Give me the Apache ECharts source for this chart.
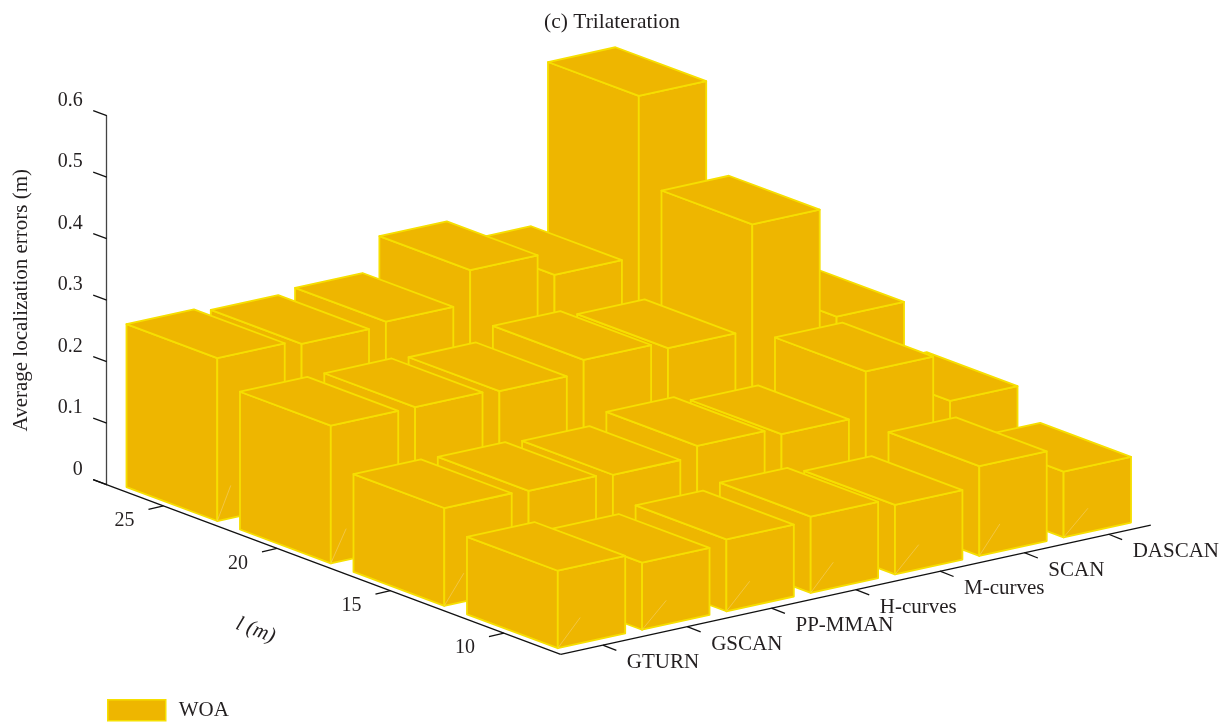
<!DOCTYPE html>
<html>
<head>
<meta charset="utf-8">
<title>Trilateration</title>
<script src="https://cdn.jsdelivr.net/npm/echarts@6/dist/echarts.min.js"></script>
<style>
  html, body { margin: 0; padding: 0; background: #fff; }
  #chart { width: 1228px; height: 727px; }
</style>
</head>
<body>
<div id="chart"></div>
<script>
const categories = ['GTURN', 'GSCAN', 'PP-MMAN', 'H-curves', 'M-curves', 'SCAN', 'DASCAN'];
const rowLabels = ['10', '15', '20', '25'];
const valueTicks = [0, 0.1, 0.2, 0.3, 0.4, 0.5, 0.6];

// average localization error per method, one list per l value
const errorsL10 = [0.126, 0.109, 0.117, 0.124, 0.113, 0.146, 0.107];
const errorsL15 = [0.159, 0.157, 0.153, 0.170, 0.159, 0.231, 0.153];
const errorsL20 = [0.224, 0.224, 0.220, 0.241, 0.230, 0.401, 0.221];
const errorsL25 = [0.265, 0.258, 0.264, 0.318, 0.280, 0.541, 0.250];
const errorRows = [errorsL10, errorsL15, errorsL20, errorsL25];

const FILL = '#EEB600';
const EDGE = '#F6DF00';
const INK = '#231f20';
const FONT = '"Liberation Serif", "DejaVu Serif", serif';

// oblique projection onto the hidden x axis and the visible value axis
const VALUE_PX = 615;           // pixels per 1.0 on the value axis
const CAT_DX = 84.3;
const CAT_DY = 18.47 / VALUE_PX;
const ROW_DX = 113.5;
const ROW_DY = 42.4 / VALUE_PX;
const FRONT_X = 4 * ROW_DX;
const FRONT_Y = -4 * ROW_DY;

function project(u, w, v) {
    return [FRONT_X + u * CAT_DX - w * ROW_DX, FRONT_Y + u * CAT_DY + w * ROW_DY + v];
}

// back row first, right to left, so nearer bars paint over farther ones
const barData = [];
for (let j = rowLabels.length - 1; j >= 0; j--) {
    for (let i = categories.length - 1; i >= 0; i--) {
        barData.push([i, j, errorRows[j][i]]);
    }
}

function renderBar(params, api) {
    const i = api.value(0);
    const j = api.value(1);
    const v = api.value(2);
    const pt = (u, w, h) => api.coord(project(u, w, h));

    const u0 = i + 0.1, u1 = i + 0.9;
    const w0 = j + 0.1, w1 = j + 0.9;
    const edgeStyle = { fill: FILL, stroke: EDGE, lineWidth: 1.8, lineJoin: 'round' };
    const poly = pts => ({ type: 'polygon', shape: { points: pts }, style: edgeStyle });

    // faint diagonal on the right face, starts at the front corner
    const from = pt(u0, w0, 0);
    const to = pt(u1, w0, v);
    const len = Math.hypot(to[0] - from[0], to[1] - from[1]);
    const k = 38 / len;

    return {
        type: 'group',
        children: [
            poly([pt(u0, w1, v), pt(u0, w0, v), pt(u0, w0, 0), pt(u0, w1, 0)]),
            poly([pt(u0, w0, v), pt(u1, w0, v), pt(u1, w0, 0), pt(u0, w0, 0)]),
            {
                type: 'line',
                shape: { x1: from[0], y1: from[1], x2: from[0] + (to[0] - from[0]) * k, y2: from[1] + (to[1] - from[1]) * k },
                style: { stroke: '#F3D070', lineWidth: 0.6 }
            },
            poly([pt(u0, w1, v), pt(u0, w0, v), pt(u1, w0, v), pt(u1, w1, v)])
        ]
    };
}

function renderFrame(params, api) {
    const pt = (u, w, h) => api.coord(project(u, w, h));
    const children = [];
    const seg = (a, b) => children.push({
        type: 'line',
        shape: { x1: a[0], y1: a[1], x2: b[0], y2: b[1] },
        style: { stroke: '#111', lineWidth: 1.3 }
    });
    const label = (text, p, dx, dy, align, size) => children.push({
        type: 'text',
        style: { text: text, x: p[0] + dx, y: p[1] + dy, fill: INK, font: size + 'px ' + FONT, align: align, verticalAlign: 'middle' }
    });

    // floor edges
    const corner = pt(0, 0, 0);
    seg(pt(0, 4.12, 0), corner);
    seg(corner, pt(7, 0, 0));

    // row ticks and labels
    rowLabels.forEach((name, j) => {
        const p = pt(0, j + 0.5, 0);
        seg(p, [p[0] - 15, p[1] + 3.5]);
        label(name, p, -39, 15, 'center', 20);
    });

    // method ticks and labels
    categories.forEach((name, i) => {
        const p = pt(i + 0.5, 0, 0);
        seg(p, [p[0] + 13.5, p[1] + 5.3]);
        label(name, p, 24, 17.7, 'left', 21);
    });

    // value axis ticks lean along the floor, labels sit above their ends
    valueTicks.forEach(v => {
        const p = api.coord([0, v]);
        seg(p, [p[0] - 13.5, p[1] - 5]);
        label(String(v), p, -24, -15, 'right', 20);
    });

    // name of the row axis, follows the slope of that axis
    const nameAt = pt(0, 2.9, 0);
    children.push({
        type: 'text',
        x: nameAt[0] + 24,
        y: nameAt[1] + 99,
        rotation: -Math.atan2(42.4, 113.5),
        style: { text: 'l (m)', x: 0, y: 0, fill: INK, font: 'italic 21px ' + FONT, align: 'center', verticalAlign: 'middle' }
    });

    return { type: 'group', children: children };
}

const option = {
    animation: false,
    backgroundColor: '#fff',
    title: {
        text: '(c) Trilateration',
        left: 607,
        top: 6,
        textAlign: 'center',
        textStyle: { fontFamily: FONT, fontSize: 21.5, fontWeight: 'normal', color: INK }
    },
    legend: {
        left: 107,
        top: 699,
        padding: 0,
        itemWidth: 58,
        itemHeight: 21,
        data: [{ name: 'WOA', icon: 'rect', itemStyle: { color: FILL, borderColor: EDGE, borderWidth: 1.5 } }],
        textStyle: { fontFamily: FONT, fontSize: 21, color: INK, padding: [0, 0, 0, 8] }
    },
    grid: { left: 106.7, top: 115.7, width: 1044, height: 369, outerBoundsMode: 'none' },
    xAxis: { type: 'value', min: 0, max: 1044, show: false },
    yAxis: {
        type: 'value',
        min: 0,
        max: 0.6,
        interval: 0.1,
        name: 'Average localization errors (m)',
        nameLocation: 'middle',
        nameRotate: 90,
        nameGap: 75,
        nameTextStyle: { fontFamily: FONT, fontSize: 21, color: INK },
        axisLine: { show: true, lineStyle: { color: '#444', width: 1.3 } },
        axisTick: { show: false },
        splitLine: { show: false },
        axisLabel: { show: false }
    },
    series: [
        {
            name: 'frame',
            type: 'custom',
            silent: true,
            renderItem: renderFrame,
            data: [[0, 0]],
            z: 1
        },
        {
            name: 'WOA',
            type: 'custom',
            silent: true,
            renderItem: renderBar,
            encode: { x: 0, y: 2 },
            data: barData,
            itemStyle: { color: FILL },
            z: 2
        }
    ]
};

const myChart = echarts.init(document.getElementById('chart'));
myChart.setOption(option);
window.addEventListener('resize', myChart.resize);
</script>
</body>
</html>
